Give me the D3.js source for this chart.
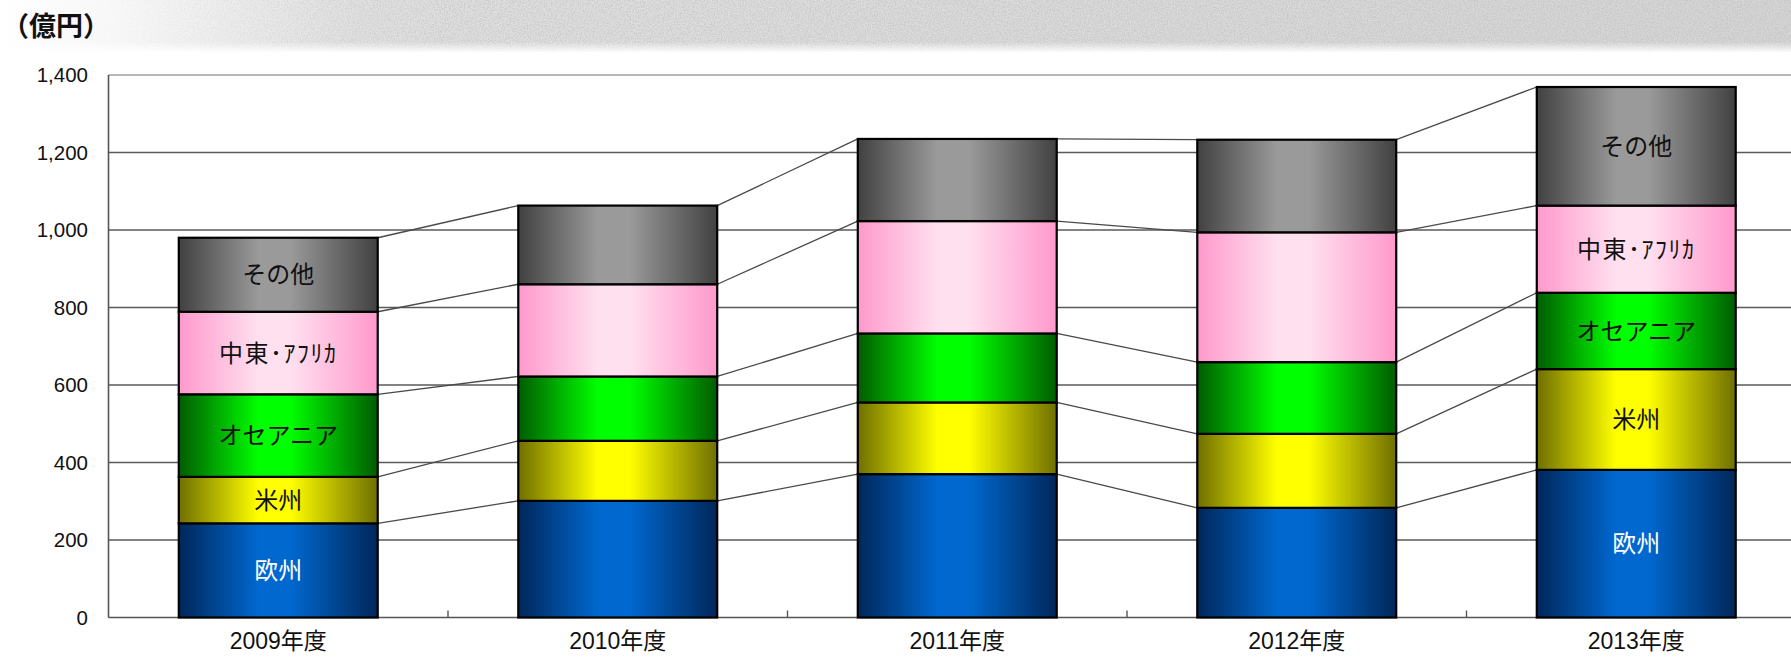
<!DOCTYPE html>
<html>
<head>
<meta charset="utf-8">
<script src="https://cdn.jsdelivr.net/npm/d3@7"></script>
<style>
  html, body { margin: 0; padding: 0; background: #fff; }
  svg { display: block; }
</style>
</head>
<body>
<svg id="chart" width="1791" height="657"></svg>
<script>
// data (億円)
const years = ["2009年度", "2010年度", "2011年度", "2012年度", "2013年度"];
const regions = ["欧州", "米州", "オセアニア", "中東･ｱﾌﾘｶ", "その他"];
const europe = [243, 301, 370, 283, 381];
const americas = [120, 155, 185, 191, 260];
const oceania = [213, 166, 178, 185, 197];
const middleEastAfrica = [213, 238, 290, 335, 225];
const others = [191, 203, 212, 239, 306];
const yTicks = [0, 200, 400, 600, 800, 1000, 1200, 1400];
const labelledYears = ["2009年度", "2013年度"];
const unitLabel = "（億円）";

const seriesValues = [europe, americas, oceania, middleEastAfrica, others];
const seriesColors = [
  { dark: "#00275a", light: "#0068cf", text: "#ffffff" },
  { dark: "#6f6f00", light: "#ffff00", text: "#111111" },
  { dark: "#005c00", light: "#00ff00", text: "#111111" },
  { dark: "#ff99cc", light: "#ffe0ef", text: "#111111" },
  { dark: "#414141", light: "#9a9a9a", text: "#111111" }
];

const svg = d3.select("#chart");
const width = 1791, height = 657;
const plotLeft = 108.5, step = 339.5;
const plotTop = 75, plotBottom = 617.5;

// build rows for d3.stack
const rows = years.map((yr, i) => {
  const row = { year: yr };
  regions.forEach((r, k) => { row[r] = seriesValues[k][i]; });
  return row;
});
const stacked = d3.stack().keys(regions)(rows);

const x = d3.scaleBand()
  .domain(years)
  .range([plotLeft, plotLeft + step * years.length])
  .paddingInner(0.414)
  .paddingOuter(0.207);

const y = d3.scaleLinear()
  .domain([0, 1400])
  .range([plotBottom, plotTop]);

const defs = svg.append("defs");

// gradients for each region
seriesColors.forEach((c, k) => {
  const g = defs.append("linearGradient")
    .attr("id", "grad" + k)
    .attr("x1", 0).attr("x2", 1).attr("y1", 0).attr("y2", 0);
  g.append("stop").attr("offset", "0%").attr("stop-color", c.dark);
  g.append("stop").attr("offset", "40%").attr("stop-color", c.light);
  g.append("stop").attr("offset", "56%").attr("stop-color", c.light);
  g.append("stop").attr("offset", "100%").attr("stop-color", c.dark);
});

// textured header band
const band = defs.append("linearGradient").attr("id", "bandGrad");
band.append("stop").attr("offset", "0%").attr("stop-color", "#ffffff");
band.append("stop").attr("offset", "6%").attr("stop-color", "#fafafa");
band.append("stop").attr("offset", "20%").attr("stop-color", "#e2e2e2");
band.append("stop").attr("offset", "100%").attr("stop-color", "#d6d6d6");

const fade = defs.append("linearGradient").attr("id", "bandFade")
  .attr("x1", 0).attr("x2", 0).attr("y1", 0).attr("y2", 1);
fade.append("stop").attr("offset", "0%").attr("stop-color", "#fff").attr("stop-opacity", 0);
fade.append("stop").attr("offset", "100%").attr("stop-color", "#fff").attr("stop-opacity", 1);

const noise = defs.append("filter").attr("id", "noise")
  .attr("x", 0).attr("y", 0).attr("width", 1).attr("height", 1);
noise.append("feTurbulence")
  .attr("type", "fractalNoise")
  .attr("baseFrequency", 0.7)
  .attr("numOctaves", 3)
  .attr("seed", 4);
noise.append("feColorMatrix")
  .attr("type", "matrix")
  .attr("values", "0 0 0 0 0.5  0 0 0 0 0.5  0 0 0 0 0.5  0 0 0 -2.2 1.5");

const noiseMask = defs.append("linearGradient").attr("id", "noiseMaskGrad");
noiseMask.append("stop").attr("offset", "0%").attr("stop-color", "#000");
noiseMask.append("stop").attr("offset", "8%").attr("stop-color", "#333");
noiseMask.append("stop").attr("offset", "25%").attr("stop-color", "#fff");
defs.append("mask").attr("id", "noiseMask")
  .append("rect")
  .attr("width", width).attr("height", 54)
  .attr("fill", "url(#noiseMaskGrad)");

svg.append("rect")
  .attr("width", width).attr("height", 52)
  .attr("fill", "url(#bandGrad)");
svg.append("rect")
  .attr("width", width).attr("height", 52)
  .attr("filter", "url(#noise)")
  .attr("mask", "url(#noiseMask)")
  .attr("opacity", 0.6);
svg.append("rect")
  .attr("y", 42).attr("width", width).attr("height", 11)
  .attr("fill", "url(#bandFade)");

// unit label
svg.append("text")
  .attr("x", 2)
  .attr("y", 36)
  .attr("font-family", "'Noto Sans CJK JP', sans-serif")
  .attr("font-weight", "bold")
  .attr("font-size", 27)
  .attr("fill", "#111")
  .text(unitLabel);

// gridlines
svg.append("g")
  .selectAll("line")
  .data(yTicks.filter(d => d > 0))
  .enter()
  .append("line")
  .attr("x1", plotLeft)
  .attr("x2", width)
  .attr("y1", d => y(d))
  .attr("y2", d => y(d))
  .attr("stroke", d => d === 1400 ? "#a0a0a0" : "#5a5a5a")
  .attr("stroke-width", 1.4);

// y tick labels
svg.append("g")
  .selectAll("text")
  .data(yTicks)
  .enter()
  .append("text")
  .attr("x", 88)
  .attr("y", d => y(d))
  .attr("dy", "0.35em")
  .attr("text-anchor", "end")
  .attr("font-family", "'Liberation Sans', Arial, sans-serif")
  .attr("font-size", 20.5)
  .attr("fill", "#111")
  .text(d => d3.format(",")(d));

// series lines joining the segment tops of neighbouring bars
const connectors = [];
stacked.forEach(layer => {
  for (let i = 0; i < years.length - 1; i++) {
    connectors.push({
      x1: x(years[i]) + x.bandwidth(),
      y1: y(layer[i][1]),
      x2: x(years[i + 1]),
      y2: y(layer[i + 1][1])
    });
  }
});
svg.append("g")
  .selectAll("line")
  .data(connectors)
  .enter()
  .append("line")
  .attr("x1", d => d.x1).attr("y1", d => d.y1)
  .attr("x2", d => d.x2).attr("y2", d => d.y2)
  .attr("stroke", "#4a4a4a")
  .attr("stroke-width", 1.3);

// axes
svg.append("line")
  .attr("x1", plotLeft).attr("x2", plotLeft)
  .attr("y1", plotTop).attr("y2", plotBottom)
  .attr("stroke", "#555").attr("stroke-width", 1.6);
svg.append("line")
  .attr("x1", plotLeft).attr("x2", width)
  .attr("y1", plotBottom).attr("y2", plotBottom)
  .attr("stroke", "#555").attr("stroke-width", 1.6);

// category tick marks (inside)
svg.append("g")
  .selectAll("line")
  .data(years.slice(1))
  .enter()
  .append("line")
  .attr("x1", d => x(d) - step * 0.207)
  .attr("x2", d => x(d) - step * 0.207)
  .attr("y1", plotBottom)
  .attr("y2", plotBottom - 7)
  .attr("stroke", "#555")
  .attr("stroke-width", 1.4);

// bars
const layers = svg.append("g")
  .selectAll("g")
  .data(stacked)
  .enter()
  .append("g")
  .attr("fill", (d, k) => "url(#grad" + k + ")");

layers.selectAll("rect")
  .data(d => d)
  .enter()
  .append("rect")
  .attr("x", d => x(d.data.year))
  .attr("y", d => y(d[1]))
  .attr("width", x.bandwidth())
  .attr("height", d => y(d[0]) - y(d[1]))
  .attr("stroke", "#000")
  .attr("stroke-width", 2.2);

// segment labels on the first and last bars
layers.each(function (layer, k) {
  d3.select(this).selectAll("text")
    .data(layer.filter(d => labelledYears.includes(d.data.year)))
    .enter()
    .append("text")
    .attr("x", d => x(d.data.year) + x.bandwidth() / 2)
    .attr("y", d => (y(d[0]) + y(d[1])) / 2)
    .attr("dy", "0.36em")
    .attr("text-anchor", "middle")
    .attr("font-family", "'Noto Sans CJK JP', sans-serif")
    .attr("font-size", 24)
    .attr("letter-spacing", layer.key === "中東･ｱﾌﾘｶ" ? 1.5 : 0)
    .attr("fill", seriesColors[k].text)
    .text(layer.key);
});

// x labels
svg.append("g")
  .selectAll("text")
  .data(years)
  .enter()
  .append("text")
  .attr("x", d => x(d) + x.bandwidth() / 2)
  .attr("y", 649)
  .attr("text-anchor", "middle")
  .attr("font-family", "'Liberation Sans', 'Noto Sans CJK JP', sans-serif")
  .attr("font-size", 23)
  .attr("fill", "#111")
  .text(d => d);
</script>
</body>
</html>
